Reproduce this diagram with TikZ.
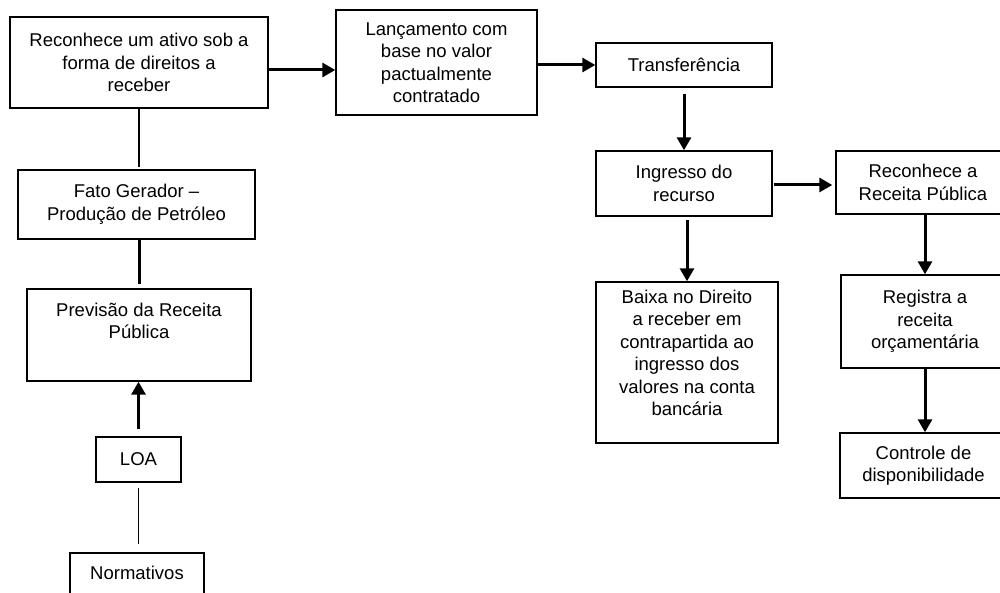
\documentclass[tikz,border=0pt]{standalone}
\usepackage{fontspec}
\setmainfont{Liberation Sans}
\usetikzlibrary{arrows.meta}
\begin{document}
\begin{tikzpicture}[x=1pt,y=-1pt,
  box/.style={draw, line width=1.4pt, inner sep=0pt, align=center, font=\fontsize{18.5}{22.5}\selectfont},
  txt/.style={inner sep=0pt, align=center, font=\fontsize{18.5}{22.5}\selectfont},
  thickarrow/.style={line width=3pt, -{Triangle[length=13pt,width=14pt]}},
  thickline/.style={line width=3pt},
  thinline/.style={line width=1.5pt}]
\clip (0,0) rectangle (1000,593);
% left column
\node[box, minimum width=258pt, minimum height=91pt] (A) at (139,62.5) {Reconhece um ativo sob a\\forma de direitos a\\receber};
\node[box, minimum width=237pt, minimum height=69pt] (fato) at (136.5,204.5) {Fato Gerador –\\Produção de Petróleo};
\node[box, minimum width=224pt, minimum height=92pt] (prev) at (139,335) {};
\node[txt] (prevtxt) at (139,321) {Previsão da Receita\\Pública};
\node[box, minimum width=85pt, minimum height=45pt] (loa) at (138.5,459.5) {LOA};
\node[box, minimum width=134pt, minimum height=50pt] (norm) at (137,578) {};
\node[txt] (normtxt) at (137,573) {Normativos};
% top row
\node[box, minimum width=201pt, minimum height=105pt] (B) at (436.5,62.5) {Lançamento com\\base no valor\\pactualmente\\contratado};
\node[box, minimum width=176pt, minimum height=44pt] (C) at (684,65) {Transferência};
\node[box, minimum width=176pt, minimum height=65pt] (D) at (684,183.5) {Ingresso do\\recurso};
\node[box, minimum width=174pt, minimum height=63pt] (E) at (923,182.5) {Reconhece a\\Receita Pública};
\node[box, minimum width=182pt, minimum height=161pt] (F) at (687,362.5) {};
\node[txt] (Ftxt) at (687,353) {Baixa no Direito\\a receber em\\contrapartida ao\\ingresso dos\\valores na conta\\bancária};
\node[box, minimum width=168pt, minimum height=93pt] (G) at (925,321.5) {Registra a\\receita\\orçamentária};
\node[box, minimum width=167pt, minimum height=65pt] (H) at (923.5,465.5) {Controle de\\disponibilidade};
% connectors
\draw[thinline, shorten >=2pt] (A.south) -- (A.south |- fato.north);
\draw[thickline, shorten >=4pt] (prev.north |- fato.south) -- (prev.north);
\draw[thickarrow, shorten <=7pt] (loa.north) -- (loa.north |- prev.south);
\draw[thinline, shorten <=5pt, shorten >=8pt] (loa.south) -- (loa.south |- norm.north);
\draw[thickarrow] ([yshift=-7.5pt]A.east) -- ([yshift=-7.5pt]B.west);
\draw[thickarrow] (B.east |- C.west) -- (C.west);
\draw[thickarrow, shorten <=6pt] (C.south) -- (D.north);
\draw[thickarrow, shorten <=1pt, shorten >=3pt] ([yshift=-1.5pt]D.east) -- ([yshift=-1.5pt]D.east -| E.west);
\draw[thickarrow, shorten <=3pt] (F.north |- D.south) -- (F.north);
\draw[thickarrow] (G.north |- E.south) -- (G.north);
\draw[thickarrow] (G.south) -- (G.south |- H.north);
\end{tikzpicture}
\end{document}
